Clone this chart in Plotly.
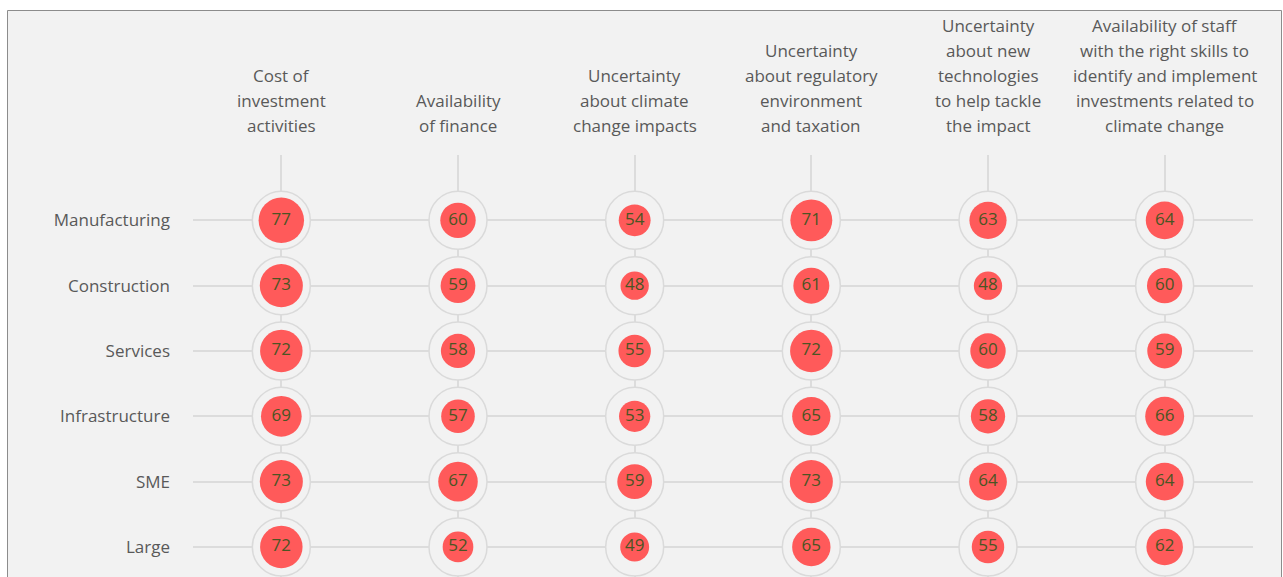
import plotly.graph_objects as go

columns = [
    "Cost of<br>investment<br>activities",
    "Availability<br>of finance",
    "Uncertainty<br>about climate<br>change impacts",
    "Uncertainty<br>about regulatory<br>environment<br>and taxation",
    "Uncertainty<br>about new<br>technologies<br>to help tackle<br>the impact",
    "Availability of staff<br>with the right skills to<br>identify and implement<br>investments related to<br>climate change",
]
rows = ["Manufacturing", "Construction", "Services", "Infrastructure", "SME", "Large"]

# one list per row, values in column order
manufacturing = [77, 60, 54, 71, 63, 64]
construction = [73, 59, 48, 61, 48, 60]
services = [72, 58, 55, 72, 60, 59]
infrastructure = [69, 57, 53, 65, 58, 66]
sme = [73, 67, 59, 73, 64, 64]
large = [72, 52, 49, 65, 55, 62]
values = [manufacturing, construction, services, infrastructure, sme, large]

FONT = "Segoe UI, Open Sans, sans-serif"
W, H = 1283, 577
L, R, T, B = 193, 30, 155, 0

xs, ys, vs = [], [], []
for r, row_vals in zip(rows, values):
    for c, v in zip(columns, row_vals):
        xs.append(c)
        ys.append(r)
        vs.append(v)

fig = go.Figure()
# outer rings
fig.add_trace(go.Scatter(
    x=xs, y=ys, mode="markers",
    marker=dict(size=58, color="#f2f2f2", opacity=1, line=dict(color="#dadada", width=1.5)),
    hoverinfo="skip", showlegend=False,
))
# value bubbles
fig.add_trace(go.Scatter(
    x=xs, y=ys, mode="markers+text",
    marker=dict(size=[v * 0.59 for v in vs], sizemode="diameter", color="#ff5a5a",
                opacity=1, line=dict(width=0)),
    text=[str(v) for v in vs], textposition="middle center",
    textfont=dict(family=FONT, size=17, color="#4b5523"),
    hoverinfo="skip", showlegend=False,
))

# column headers, one annotation per line
for c in columns:
    lines = c.split("<br>")
    n = len(lines)
    for k, line in enumerate(lines):
        fig.add_annotation(
            x=c, xref="x", y=1, yref="paper", yanchor="middle",
            yshift=(T - 125) + 25 * (n - 1 - k),
            text=line, showarrow=False,
            font=dict(family=FONT, size=17, color="#595959"),
        )

# panel behind the chart
px = lambda p: (p - L) / (W - L - R)
py = lambda p: 1 - (p - T) / (H - T - B)
fig.add_shape(type="rect", xref="paper", yref="paper",
              x0=px(7.5), x1=px(1281.5), y0=py(H + 20), y1=py(10.5),
              fillcolor="#f2f2f2", line=dict(color="#8c8c8c", width=1), layer="below")

fig.update_xaxes(
    type="category", categoryorder="array", categoryarray=columns,
    range=[-0.5, 5.5], showticklabels=False, ticks="",
    showgrid=True, gridcolor="#dcdcdc", gridwidth=1.5, zeroline=False, showline=False,
)
fig.update_yaxes(
    type="category", categoryorder="array", categoryarray=rows,
    range=[5.46, -1.0], ticks="", ticklabelstandoff=22,
    tickfont=dict(family=FONT, size=17, color="#595959"),
    showgrid=True, gridcolor="#dcdcdc", gridwidth=1.5, zeroline=False, showline=False,
)
fig.update_layout(
    width=W, height=H,
    margin=dict(l=L, r=R, t=T, b=B, pad=0),
    paper_bgcolor="white", plot_bgcolor="rgba(0,0,0,0)",
    hovermode=False,
)
fig.write_html("out.html", config={"displayModeBar": False},
               post_script="document.body.style.margin='0';")
